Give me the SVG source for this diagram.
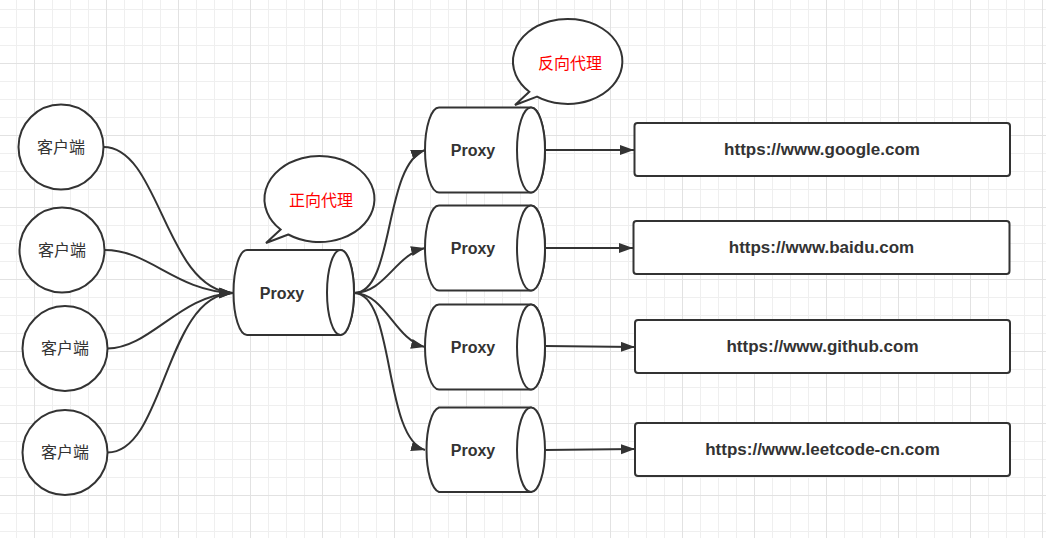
<svg xmlns="http://www.w3.org/2000/svg" width="1046" height="538" viewBox="0 0 1046 538">
<defs>
<pattern id="minor" x="16" y="9" width="18" height="18" patternUnits="userSpaceOnUse">
<rect x="0" y="0" width="1" height="18" fill="#efefef"/>
<rect x="0" y="0" width="18" height="1" fill="#efefef"/>
</pattern>
<pattern id="major" x="34" y="63" width="72" height="72" patternUnits="userSpaceOnUse">
<rect x="0" y="0" width="1" height="72" fill="#e2e2e2"/>
<rect x="0" y="0" width="72" height="1" fill="#e2e2e2"/>
</pattern>
<marker id="arrow" markerUnits="userSpaceOnUse" markerWidth="15" markerHeight="11" refX="14" refY="5" orient="auto">
<path d="M0,0 L14,5 L0,10 Z" fill="#333"/>
</marker>
<style>
.sh{fill:#fff;stroke:#333;stroke-width:2}
.edge{fill:none;stroke:#333;stroke-width:2;marker-end:url(#arrow)}
.cn{font-family:"Liberation Sans","Noto Sans CJK SC",sans-serif;font-size:16px;fill:#333;text-anchor:middle;dominant-baseline:central}
.red{font-family:"Liberation Sans","Noto Sans CJK SC",sans-serif;font-size:16px;fill:#ff0000;text-anchor:middle;dominant-baseline:central}
.bold{font-family:"Liberation Sans",sans-serif;font-weight:bold;font-size:16px;fill:#333;text-anchor:middle;dominant-baseline:central}
.url{font-family:"Liberation Sans",sans-serif;font-weight:bold;font-size:17px;fill:#333;text-anchor:middle;dominant-baseline:central}
</style>
</defs>
<rect width="1046" height="538" fill="#fff"/>
<rect width="1046" height="538" fill="url(#minor)"/>
<rect width="1046" height="538" fill="url(#major)"/>

<g id="connectors">
<path class="edge" d="M103.5,147 C160,147 165,290 233,293"/>
<path class="edge" d="M104.5,250 C150,250 175,291 233,293"/>
<path class="edge" d="M107.5,348.5 C150,348.5 180,295 233,293"/>
<path class="edge" d="M107.5,452.5 C165,452.5 165,294 233,293"/>
<path class="edge" d="M354,293 C395,293 383,165 425,150"/>
<path class="edge" d="M354,293 C385,293 395,255 425,248"/>
<path class="edge" d="M354,293 C385,293 395,340 425,347"/>
<path class="edge" d="M354,293 C395,293 383,438 425,450"/>
<path class="edge" d="M545,150 L634,150"/>
<path class="edge" d="M545,248 L633,248"/>
<path class="edge" d="M545,346 L635,347"/>
<path class="edge" d="M545,450 L635,449"/>
</g>

<g id="client1"><circle class="sh" cx="61" cy="147" r="42.5"/><text class="cn" x="61" y="147">客户端</text></g>
<g id="client2"><circle class="sh" cx="62" cy="250" r="42.5"/><text class="cn" x="62" y="250">客户端</text></g>
<g id="client3"><circle class="sh" cx="65" cy="348.5" r="42.5"/><text class="cn" x="65" y="348.5">客户端</text></g>
<g id="client4"><circle class="sh" cx="65" cy="452.5" r="42.5"/><text class="cn" x="65" y="452.5">客户端</text></g>

<g id="forward-proxy">
<path class="sh" d="M247,250 L340.5,250 A13.5,42.5 0 0 1 340.5,335 L247,335 A13.5,42.5 0 0 1 247,250 Z"/>
<ellipse class="sh" cx="340.5" cy="292.5" rx="13.5" ry="42.5"/>
<text class="bold" x="282" y="293">Proxy</text>
</g>

<g id="forward-callout">
<path class="sh" d="M288.3,234.5 L266,243 L280.6,229.5 A55,43 0 1 1 288.3,234.5 Z"/>
<text class="red" x="321" y="200.5">正向代理</text>
</g>

<g id="reverse-callout">
<path class="sh" d="M537,96.6 L515,105 L529.3,91.7 A54.7,42.5 0 1 1 537,96.6 Z"/>
<text class="red" x="570" y="63">反向代理</text>
</g>

<g id="proxy1">
<path class="sh" d="M439,107.5 L531,107.5 A14,42.5 0 0 1 531,192.5 L439,192.5 A14,42.5 0 0 1 439,107.5 Z"/>
<ellipse class="sh" cx="531" cy="150" rx="14" ry="42.5"/>
<text class="bold" x="473" y="150">Proxy</text>
</g>
<g id="proxy2">
<path class="sh" d="M439,205.5 L531,205.5 A14,42.5 0 0 1 531,290.5 L439,290.5 A14,42.5 0 0 1 439,205.5 Z"/>
<ellipse class="sh" cx="531" cy="248" rx="14" ry="42.5"/>
<text class="bold" x="473" y="248">Proxy</text>
</g>
<g id="proxy3">
<path class="sh" d="M439,304.5 L531,304.5 A14,42.5 0 0 1 531,389.5 L439,389.5 A14,42.5 0 0 1 439,304.5 Z"/>
<ellipse class="sh" cx="531" cy="347" rx="14" ry="42.5"/>
<text class="bold" x="473" y="347">Proxy</text>
</g>
<g id="proxy4">
<path class="sh" d="M439,407.5 L531,407.5 A14,42.5 0 0 1 531,492 L439,492 A14,42.5 0 0 1 439,407.5 Z"/>
<ellipse class="sh" cx="531" cy="449.75" rx="14" ry="42.25"/>
<text class="bold" x="473" y="450">Proxy</text>
</g>

<g id="site-google"><rect class="sh" x="634.5" y="123" width="375.5" height="53" rx="3"/><text class="url" x="822" y="149.5">https://www.google.com</text></g>
<g id="site-baidu"><rect class="sh" x="633.5" y="221" width="376" height="53" rx="3"/><text class="url" x="821.5" y="247.5">https://www.baidu.com</text></g>
<g id="site-github"><rect class="sh" x="635" y="320" width="375" height="53" rx="3"/><text class="url" x="822.5" y="346.5">https://www.github.com</text></g>
<g id="site-leetcode"><rect class="sh" x="635" y="423" width="375" height="53" rx="3"/><text class="url" x="822.5" y="449.5">https://www.leetcode-cn.com</text></g>
</svg>
